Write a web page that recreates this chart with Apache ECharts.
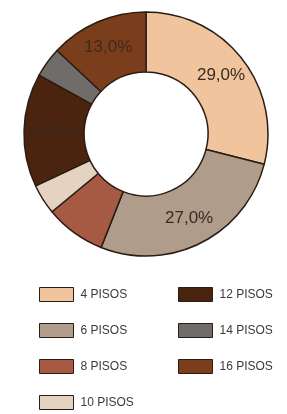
<!DOCTYPE html>
<html lang="pt">
<head>
    <meta charset="UTF-8">
    <title>Pisos</title>
    <script src="https://cdn.jsdelivr.net/npm/echarts@6/dist/echarts.min.js"></script>
    <style>
        html, body { margin: 0; padding: 0; background: #fff; }
        #pie_show { width: 287px; height: 414px; }
    </style>
</head>
<body>
    <div id="pie_show"></div>
    <script>
        // dados
        let categorias = ['4 PISOS', '6 PISOS', '8 PISOS', '10 PISOS', '12 PISOS', '14 PISOS', '16 PISOS'];
        let valores = [29, 27, 8, 4, 15, 4, 13];
        let cores = ['#f0c49c', '#b09c8a', '#a65a44', '#e3d3c0', '#4b2410', '#6f6c69', '#7b3e1c'];
        // só as fatias grandes têm rótulo
        let comRotulo = ['4 PISOS', '6 PISOS', '12 PISOS', '16 PISOS'];

        let myEchart = echarts.init(document.querySelector('#pie_show'));

        let dataArr = categorias.map((name, i) => ({
            name: name,
            value: valores[i],
            itemStyle: { color: cores[i] },
            label: { show: comRotulo.indexOf(name) >= 0 }
        }));

        let legendText = {
            fontFamily: 'Liberation Sans, Arial, sans-serif',
            fontSize: 12,
            color: '#3a3a3a',
            padding: [0, 0, 0, 2]
        };

        function legenda(left, nomes) {
            return {
                orient: 'vertical',
                left: left,
                top: 287,
                height: 125,
                padding: 0,
                itemWidth: 34,
                itemHeight: 14,
                itemGap: 21,
                icon: 'rect',
                itemStyle: { borderColor: '#2b1d14', borderWidth: 1 },
                textStyle: legendText,
                data: nomes
            };
        }

        let option = {
            animation: false,
            legend: [
                legenda(39, categorias.slice(0, 4)),
                legenda(178, categorias.slice(4))
            ],
            series: [
                {
                    type: 'pie',
                    center: [146, 134],
                    radius: [62, 122],
                    startAngle: 90,
                    clockwise: true,
                    avoidLabelOverlap: false,
                    itemStyle: {
                        borderColor: '#2b1d14',
                        borderWidth: 1.5
                    },
                    label: {
                        position: 'inside',
                        formatter: p => p.value.toFixed(1).replace('.', ',') + '%',
                        fontFamily: 'Liberation Sans, Arial, sans-serif',
                        fontSize: 17,
                        color: '#3b2a20'
                    },
                    labelLine: { show: false },
                    emphasis: { disabled: true },
                    data: dataArr
                }
            ]
        };
        myEchart.setOption(option);
    </script>
</body>
</html>
